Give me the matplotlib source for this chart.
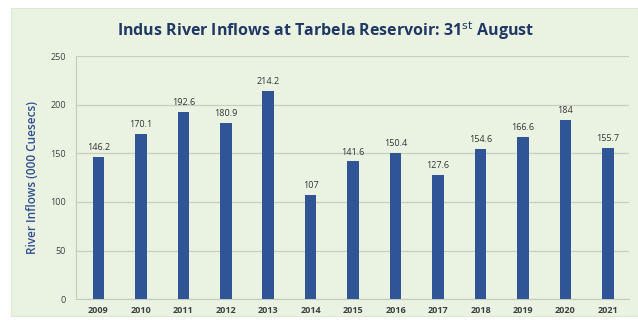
#!/usr/bin/env python3
"""Indus River inflows at Tarbela on 31st August, bar chart by year."""

import matplotlib
matplotlib.use('Agg')
import matplotlib.pyplot as plt

years = ['2009', '2010', '2011', '2012', '2013', '2014', '2015',
         '2016', '2017', '2018', '2019', '2020', '2021']
inflows = [146.2, 170.1, 192.6, 180.9, 214.2, 107, 141.6,
           150.4, 127.6, 154.6, 166.6, 184, 155.7]
yticks = [0, 50, 100, 150, 200, 250]

BG = '#eaf3e2'
BAR = '#2f5597'

plt.rcParams['font.family'] = ['Open Sans', 'DejaVu Sans']

fig = plt.figure(figsize=(6.38, 3.22), dpi=100, facecolor='white')
# green chart panel inside a thin white margin
fig.patches.append(plt.Rectangle((11 / 638, 6 / 322), 1 - 11 / 638, 1 - 14 / 322,
                                 transform=fig.transFigure, facecolor=BG,
                                 edgecolor='#dfe8d8', linewidth=0.8, zorder=-1))

ax = fig.add_axes([0.119, 0.071, 0.867, 0.755])
ax.set_zorder(1)
ax.set_facecolor(BG)

x = range(len(years))
ax.bar(x, inflows, width=0.27, color=BAR, zorder=3)
for xi, v in zip(x, inflows):
    ax.text(xi, v + 5, f'{v:g}', ha='center', va='bottom', fontsize=6.5,
            color='#333333', zorder=4)

ax.set_xlim(-0.53, len(years) - 0.5)
ax.set_ylim(0, 250)
ax.set_yticks(yticks)
ax.set_xticks(list(x))
ax.set_xticklabels(years, fontsize=6.5, fontweight='bold', color='#404040')
ax.tick_params(axis='y', labelsize=6.5, labelcolor='#404040', length=0, pad=7)
ax.tick_params(axis='x', length=0, pad=5)

ax.grid(axis='y', color='#c8cfc2', linewidth=0.9, zorder=0)
for side in ('top', 'right'):
    ax.spines[side].set_visible(False)
ax.spines['left'].set_color('#c4cbbe')
ax.spines['bottom'].set_color('#c4cbbe')

ax.set_ylabel('River Inflows (000 Cuesecs)', fontsize=8.5, color='#2f4f8f',
              fontweight='semibold', labelpad=8)

fig.text(0.51, 0.905, 'Indus River Inflows at Tarbela Reservoir: 31$^{\\mathrm{st}}$ August',
         ha='center', va='center', fontsize=11.5, fontweight='bold', color='#1f3864')

fig.savefig('out.png', dpi=100, facecolor='white')
